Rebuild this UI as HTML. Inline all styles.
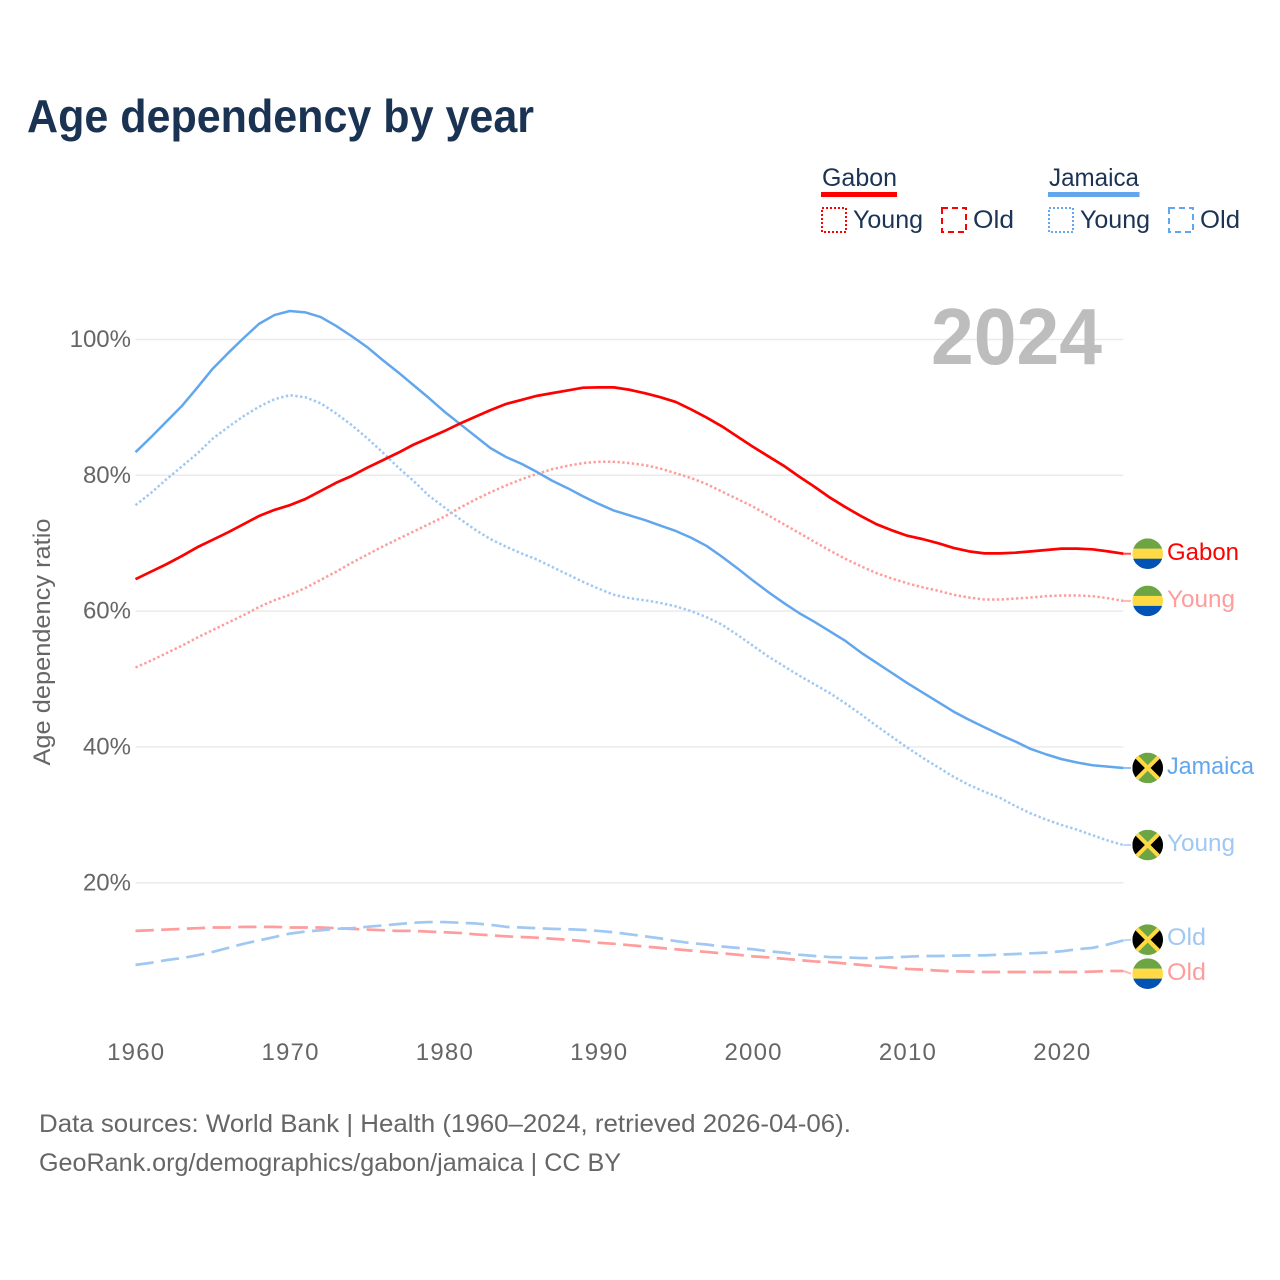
<!DOCTYPE html>
<html lang="en">
<head>
<meta charset="utf-8">
<title>Age dependency by year</title>
<style>
html,body{margin:0;padding:0;background:#fff}
svg{display:block}
text{font-family:"Liberation Sans",sans-serif}
.tick{font-size:24px;fill:#666}
.legend{font-size:25px;fill:#1b3354}
.foot{font-size:25px;fill:#666}
.end{font-size:24.5px}
</style>
</head>
<body>
<svg id="chart" xmlns="http://www.w3.org/2000/svg" width="1280" height="1280" viewBox="0 0 1280 1280">
<rect width="1280" height="1280" fill="#fff"/>
<text x="27" y="132" font-size="46" font-weight="700" fill="#1a3353" textLength="507" lengthAdjust="spacingAndGlyphs">Age dependency by year</text>

<g>
<text class="legend" x="822" y="186" textLength="75" lengthAdjust="spacingAndGlyphs">Gabon</text>
<rect x="821" y="192" width="76" height="5" fill="#ff0000"/>
<rect x="822" y="208" width="24" height="24" fill="none" stroke="#ff0000" stroke-width="2" stroke-dasharray="2 2"/>
<text class="legend" x="853" y="228" textLength="70" lengthAdjust="spacingAndGlyphs">Young</text>
<rect x="942" y="208" width="24" height="24" fill="none" stroke="#ff0000" stroke-width="2" stroke-dasharray="6 4"/>
<text class="legend" x="973" y="228" textLength="41" lengthAdjust="spacingAndGlyphs">Old</text>

<text class="legend" x="1049" y="186" textLength="90" lengthAdjust="spacingAndGlyphs">Jamaica</text>
<rect x="1048" y="192" width="91.5" height="5" fill="#62a6ee"/>
<rect x="1049" y="208" width="24" height="24" fill="none" stroke="#62a6ee" stroke-width="2" stroke-dasharray="2 2"/>
<text class="legend" x="1080" y="228" textLength="70" lengthAdjust="spacingAndGlyphs">Young</text>
<rect x="1169" y="208" width="24" height="24" fill="none" stroke="#62a6ee" stroke-width="2" stroke-dasharray="6 4"/>
<text class="legend" x="1200" y="228" textLength="40" lengthAdjust="spacingAndGlyphs">Old</text>
</g>

<g id="grid"></g>
<text x="931" y="364" font-size="80" font-weight="700" fill="#bdbdbd" textLength="171" lengthAdjust="spacingAndGlyphs">2024</text>
<g id="yticks"></g>
<g id="xticks"></g>
<text class="tick" transform="translate(50,642) rotate(-90)" text-anchor="middle" textLength="247" lengthAdjust="spacingAndGlyphs">Age dependency ratio</text>
<g id="lines"></g>
<g id="ends"></g>

<text class="foot" x="39" y="1132" textLength="812" lengthAdjust="spacingAndGlyphs">Data sources: World Bank | Health (1960–2024, retrieved 2026-04-06).</text>
<text class="foot" x="39" y="1171" textLength="582" lengthAdjust="spacingAndGlyphs">GeoRank.org/demographics/gabon/jamaica | CC BY</text>
</svg>

<script>
const startYear = 1960;
const xTickYears = [1960, 1970, 1980, 1990, 2000, 2010, 2020];
const yTickValues = [20, 40, 60, 80, 100];

const gabonTotal = [
  64.7, 65.8, 66.9, 68.1, 69.4, 70.5, 71.6, 72.8, 74.0, 74.9,
  75.6, 76.5, 77.7, 78.9, 79.9, 81.1, 82.2, 83.3, 84.5, 85.5,
  86.5, 87.6, 88.6, 89.6, 90.5, 91.1, 91.7, 92.1, 92.5, 92.9,
  92.95, 92.95, 92.6, 92.1, 91.5, 90.8, 89.7, 88.5, 87.2, 85.7,
  84.2, 82.8, 81.4, 79.8, 78.3, 76.7, 75.3, 74.0, 72.8, 71.9,
  71.1, 70.6, 70.0, 69.3, 68.8, 68.5, 68.5, 68.6, 68.8, 69.0,
  69.2, 69.2, 69.1, 68.8, 68.45
];
const gabonYoung = [
  51.7, 52.7, 53.8, 54.9, 56.1, 57.2, 58.3, 59.4, 60.6, 61.6,
  62.4, 63.4, 64.6, 65.8, 67.1, 68.3, 69.5, 70.6, 71.7, 72.8,
  73.9, 75.2, 76.4, 77.5, 78.5, 79.4, 80.2, 80.9, 81.4, 81.8,
  82.0, 82.0, 81.8, 81.5, 81.0, 80.3, 79.6, 78.7, 77.6, 76.5,
  75.4, 74.1, 72.8, 71.5, 70.2, 68.9, 67.7, 66.6, 65.6, 64.8,
  64.1, 63.5, 63.0, 62.4, 62.0, 61.7, 61.7, 61.85, 62.0, 62.2,
  62.3, 62.3, 62.2, 61.9, 61.5
];
const gabonOld = [
  12.9, 13.0, 13.1, 13.2, 13.3, 13.4, 13.4, 13.5, 13.5, 13.5,
  13.4, 13.4, 13.4, 13.3, 13.2, 13.1, 13.0, 12.9, 12.9, 12.8,
  12.7, 12.6, 12.4, 12.25, 12.1, 12.0, 11.9, 11.75, 11.6, 11.4,
  11.16, 11.0, 10.8, 10.6, 10.4, 10.2, 10.0, 9.8, 9.6, 9.4,
  9.15, 9.0, 8.8, 8.6, 8.4, 8.3, 8.1, 7.9, 7.7, 7.5,
  7.3, 7.2, 7.05, 6.95, 6.9, 6.85, 6.85, 6.85, 6.85, 6.85,
  6.85, 6.85, 6.9, 7.0, 7.0
];
const jamaicaTotal = [
  83.4, 85.6, 87.9, 90.2, 92.9, 95.7, 98.0, 100.2, 102.3, 103.6,
  104.2, 104.0, 103.3, 102.0, 100.5, 98.9, 97.0, 95.2, 93.3, 91.4,
  89.4, 87.6, 85.8, 84.0, 82.7, 81.7, 80.5, 79.2, 78.1, 76.9,
  75.8, 74.8, 74.1, 73.4, 72.6, 71.8, 70.8, 69.6, 68.0, 66.3,
  64.5, 62.8, 61.2, 59.7, 58.4, 57.0, 55.6, 53.9, 52.4, 50.9,
  49.4, 48.0, 46.6, 45.2, 44.0, 42.9, 41.8, 40.8, 39.7, 38.9,
  38.2, 37.7, 37.3, 37.1, 36.9
];
const jamaicaYoung = [
  75.6, 77.4, 79.4, 81.3, 83.2, 85.4, 87.1, 88.7, 90.1, 91.2,
  91.8, 91.5, 90.6, 89.1, 87.4, 85.5, 83.4, 81.2, 79.2, 77.0,
  75.3, 73.6, 72.0, 70.6, 69.5, 68.5, 67.6, 66.5, 65.4, 64.3,
  63.3, 62.4, 61.9, 61.6, 61.2, 60.7, 60.0, 59.1, 58.0, 56.5,
  54.9, 53.3, 51.9, 50.5, 49.2, 47.9, 46.4, 44.8, 43.1, 41.5,
  39.9, 38.4, 37.0, 35.6, 34.4, 33.4, 32.5, 31.3, 30.2, 29.3,
  28.5, 27.8, 27.0, 26.2, 25.55
];
const jamaicaOld = [
  7.9, 8.2, 8.6, 8.9, 9.3, 9.8, 10.4, 11.0, 11.5, 12.0,
  12.5, 12.8, 13.0, 13.2, 13.3, 13.5, 13.7, 13.9, 14.1, 14.2,
  14.2, 14.1, 14.0, 13.8, 13.5, 13.4, 13.3, 13.2, 13.15, 13.05,
  12.9, 12.7, 12.4, 12.1, 11.8, 11.4, 11.1, 10.9, 10.6, 10.4,
  10.2, 9.9, 9.7, 9.4, 9.2, 9.05, 9.0, 8.9, 8.9, 9.0,
  9.1, 9.2, 9.2, 9.25, 9.3, 9.3, 9.4, 9.5, 9.6, 9.7,
  9.9, 10.2, 10.4, 10.9, 11.5
];

const NS = 'http://www.w3.org/2000/svg';
const xScale = year => 135.5 + (year - startYear) * 15.435;
const yScale = v => 1018.5 - v * 6.79;
const endYear = startYear + gabonTotal.length - 1;

function make(tag, attrs, parent) {
  const el = document.createElementNS(NS, tag);
  for (const k in attrs) el.setAttribute(k, attrs[k]);
  parent.appendChild(el);
  return el;
}

const gridG = document.getElementById('grid');
const yTickG = document.getElementById('yticks');
const xTickG = document.getElementById('xticks');
const linesG = document.getElementById('lines');
const endsG = document.getElementById('ends');

yTickValues.forEach(v => {
  const line = make('line', {x1: xScale(startYear), x2: xScale(endYear), y1: yScale(v), y2: yScale(v), stroke: '#ebebeb', 'stroke-width': 1.5}, gridG);
  
  
  const t = make('text', {x: 131, y: yScale(v) + 7.6, 'text-anchor': 'end', class: 'tick'}, yTickG);
  t.textContent = v + '%';
  
  
});

xTickYears.forEach(year => {
  const t = make('text', {x: xScale(year) + 0.7, y: 1060, 'text-anchor': 'middle', class: 'tick', 'letter-spacing': '1.2'}, xTickG);
  t.textContent = String(year);
  
  
});

function drawLine(values, color, width, dash, name) {
  const pts = values.map((v, i) => xScale(startYear + i).toFixed(2) + ',' + yScale(v).toFixed(2));
  const attrs = {points: pts.join(' '), fill: 'none', stroke: color, 'stroke-width': width, 'stroke-linejoin': 'round'};
  if (dash) attrs['stroke-dasharray'] = dash;
  const line = make('polyline', attrs, linesG);
  
  
}

function drawFlag(country, cy, g) {
  const cx = 1147.7;
  const r = 15.3;
  const clipId = 'clip-' + Math.round(cy);
  const clip = make('clipPath', {id: clipId}, g);
  make('circle', {cx: cx, cy: cy, r: r}, clip);
  const flag = make('g', {'clip-path': 'url(#' + clipId + ')'}, g);
  
  
  if (country === 'gabon') {
    make('rect', {x: cx - r, y: cy - r, width: 2 * r, height: 10.4, fill: '#6da544'}, flag);
    make('rect', {x: cx - r, y: cy - 5, width: 2 * r, height: 10.4, fill: '#ffda44'}, flag);
    make('rect', {x: cx - r, y: cy + 5, width: 2 * r, height: 10.4, fill: '#0052b4'}, flag);
  } else {
    make('rect', {x: cx - r, y: cy - r, width: 2 * r, height: 2 * r, fill: '#6da544'}, flag);
    make('polygon', {points: [cx - r, cy - r, cx, cy, cx - r, cy + r].join(','), fill: '#000'}, flag);
    make('polygon', {points: [cx + r, cy - r, cx, cy, cx + r, cy + r].join(','), fill: '#000'}, flag);
    make('line', {x1: cx - r, y1: cy - r, x2: cx + r, y2: cy + r, stroke: '#ffda44', 'stroke-width': 4}, flag);
    make('line', {x1: cx - r, y1: cy + r, x2: cx + r, y2: cy - r, stroke: '#ffda44', 'stroke-width': 4}, flag);
  }
}

function drawEnd(values, color, width, label, textWidth, country, name, nudge, textNudge) {
  const last = values[values.length - 1];
  const yEnd = yScale(last);
  const y = yEnd + nudge;
  const g = make('g', {}, endsG);
  
  
  make('line', {x1: xScale(endYear), x2: 1131, y1: yEnd, y2: y, stroke: color, 'stroke-width': width, opacity: 0.7}, g);
  drawFlag(country, y, g);
  const t = make('text', {x: 1167, y: y + 6.2 + textNudge, fill: color, class: 'end', textLength: textWidth, lengthAdjust: 'spacingAndGlyphs'}, g);
  t.textContent = label;
  
  
}

const RED = '#ff0000', BLUE = '#62a6ee', LRED = '#ff9c9c', LBLUE = '#a0c8f2';

drawLine(gabonOld, LRED, 2.7, '18.3 7.4', 'gabon-old-line');
drawLine(jamaicaOld, LBLUE, 2.7, '18.3 7.4', 'jamaica-old-line');
drawLine(gabonYoung, LRED, 2.5, '2.4 2.4', 'gabon-young-line');
drawLine(jamaicaYoung, LBLUE, 2.5, '2.4 2.4', 'jamaica-young-line');
drawLine(jamaicaTotal, BLUE, 2.5, null, 'jamaica-total-line');
drawLine(gabonTotal, RED, 2.7, null, 'gabon-total-line');

drawEnd(gabonTotal, RED, 2, 'Gabon', 72, 'gabon', 'gabon-total', 0, 0);
drawEnd(gabonYoung, LRED, 2, 'Young', 68, 'gabon', 'gabon-young', 0, 0);
drawEnd(jamaicaTotal, BLUE, 2, 'Jamaica', 87, 'jamaica', 'jamaica-total', 0, 0);
drawEnd(jamaicaYoung, LBLUE, 2, 'Young', 68, 'jamaica', 'jamaica-young', 0, 0);
drawEnd(jamaicaOld, LBLUE, 2, 'Old', 39, 'jamaica', 'jamaica-old', -0.7, -1);
drawEnd(gabonOld, LRED, 2, 'Old', 39, 'gabon', 'gabon-old', 2.7, 0);
</script>
</body>
</html>
